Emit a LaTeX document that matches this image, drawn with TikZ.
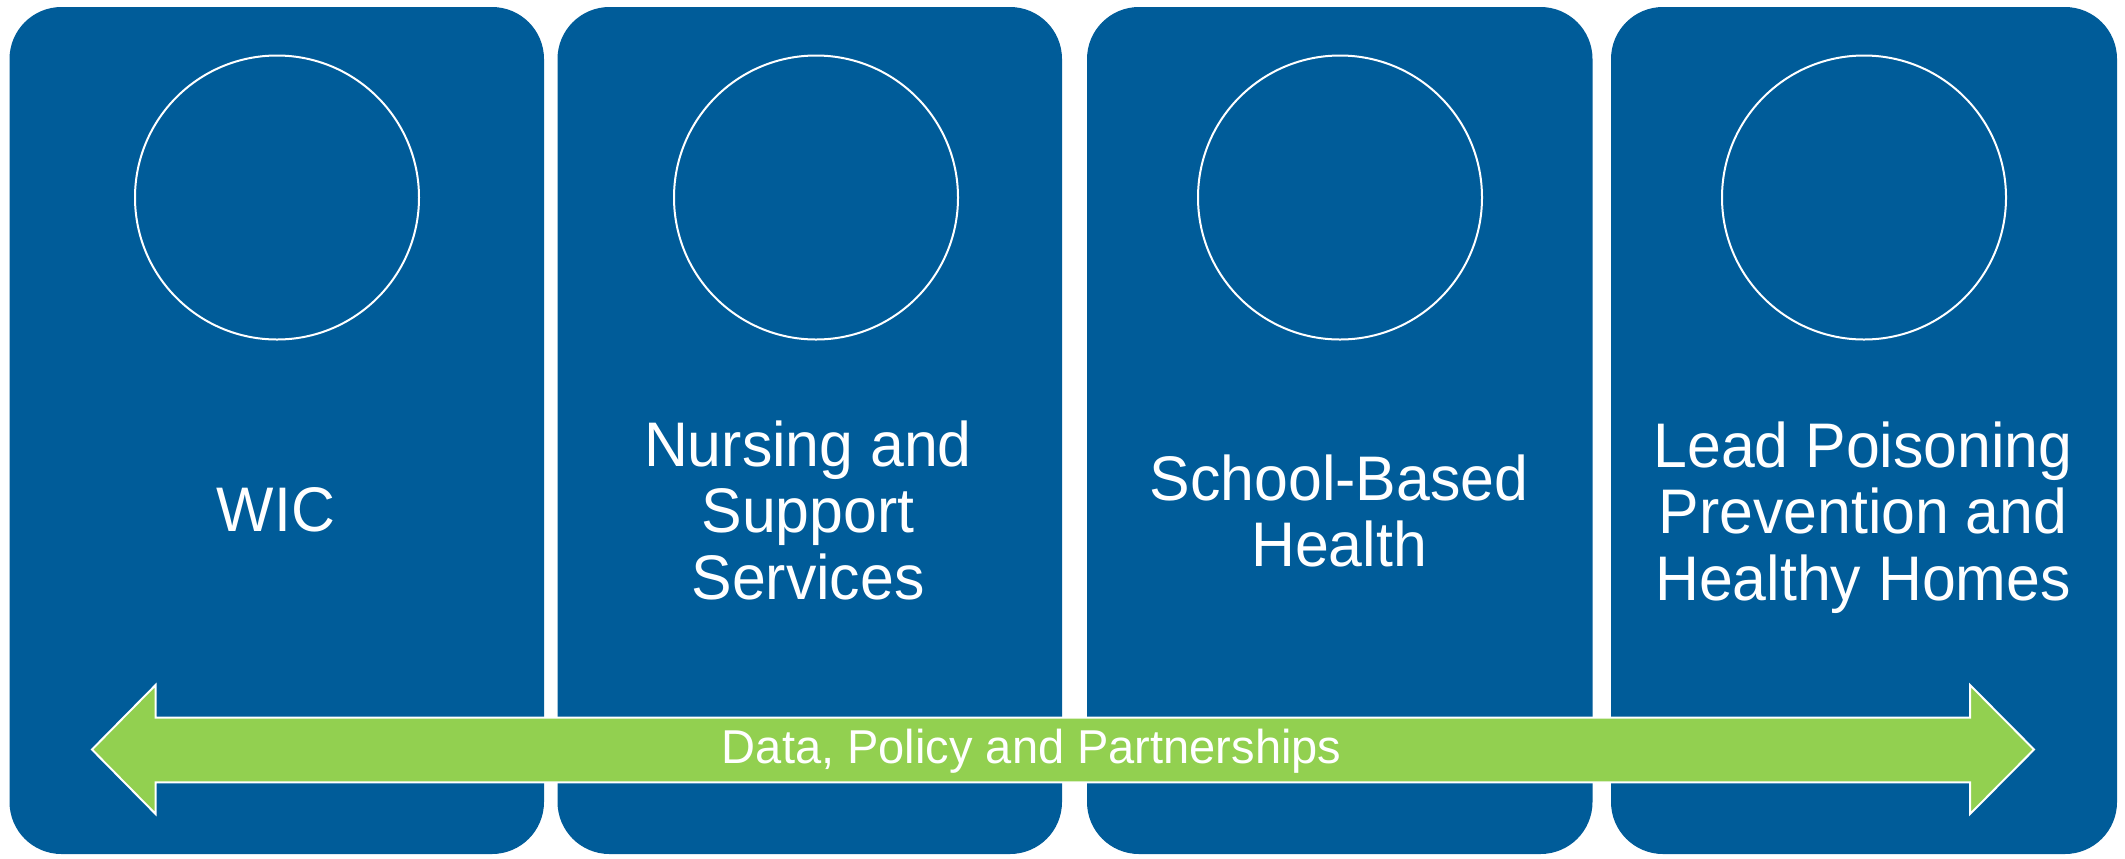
\documentclass[tikz,border=0pt]{standalone}
\usepackage{fontspec}
\setmainfont[FakeStretch=0.965]{Liberation Sans}
\newfontfamily\condfont[FakeStretch=0.99]{Liberation Sans}
\definecolor{boxblue}{RGB}{0,92,153}
\definecolor{bargreen}{RGB}{146,208,80}
\begin{document}
\begin{tikzpicture}[x=0.5pt,y=-0.5pt,
  panel/.style={fill=boxblue, rounded corners=26pt},
  ring/.style={draw=white, line width=1pt},
  label/.style={text=white, font=\fontsize{31.5pt}{33.25pt}\selectfont, align=center, anchor=base, inner sep=0pt},
  barlabel/.style={text=white, font=\condfont\fontsize{23.75pt}{26pt}\selectfont, anchor=base, inner sep=0pt}]
\useasboundingbox (0,0) rectangle (2125,858);
\fill[white] (0,0) rectangle (2125,858);
% panels
\fill[panel] (9.5,7) rectangle (544,854);
\fill[panel] (557.5,7) rectangle (1062,854);
\fill[panel] (1087,7) rectangle (1592.5,854);
\fill[panel] (1611,7) rectangle (2117,854);
% circles
\draw[ring] (277,197.5) circle[radius=71pt];
\draw[ring] (816,197.5) circle[radius=71pt];
\draw[ring] (1340,197.5) circle[radius=71pt];
\draw[ring] (1864,197.5) circle[radius=71pt];
% labels (base anchor = baseline of last line)
\node[label] (wic) at (276,531.7) {WIC};
\node[label] (nurs) at (808,599) {Nursing and\\Support\\Services};
\node[label] (school) at (1339,566.7) {School-Based\\Health};
\node[label] (lead) at (1863,600) {Lead Poisoning\\Prevention and\\Healthy Homes};
% double arrow
\draw[fill=bargreen, draw=white, line width=1pt, line join=miter]
  (92,749.5) -- (155.6,685) -- (155.6,717.7) -- (1970,717.7) -- (1970,685)
  -- (2034,749.5) -- (1970,814) -- (1970,782.3) -- (155.6,782.3) -- (155.6,814) -- cycle;
\node[barlabel] (bar) at (1031.7,763.3) {Data, Policy and Partnerships};
\end{tikzpicture}
\end{document}
